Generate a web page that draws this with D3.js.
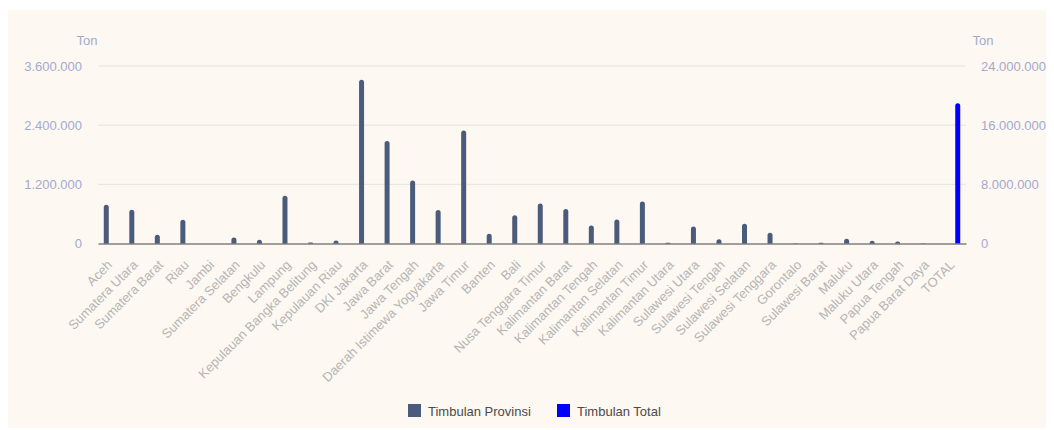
<!DOCTYPE html>
<html>
<head>
<meta charset="utf-8">
<script src="https://cdn.jsdelivr.net/npm/d3@7"></script>
<style>
  body { margin: 0; background: #fff; font-family: "Liberation Sans", Arial, sans-serif; }
</style>
</head>
<body>
<svg id="chart" width="1054" height="430"></svg>
<script>
const provinces = ["Aceh", "Sumatera Utara", "Sumatera Barat", "Riau", "Jambi", "Sumatera Selatan",
  "Bengkulu", "Lampung", "Kepulauan Bangka Belitung", "Kepulauan Riau", "DKI Jakarta", "Jawa Barat",
  "Jawa Tengah", "Daerah Istimewa Yogyakarta", "Jawa Timur", "Banten", "Bali", "Nusa Tenggara Timur",
  "Kalimantan Barat", "Kalimantan Tengah", "Kalimantan Selatan", "Kalimantan Timur", "Kalimantan Utara",
  "Sulawesi Utara", "Sulawesi Tengah", "Sulawesi Selatan", "Sulawesi Tenggara", "Gorontalo",
  "Sulawesi Barat", "Maluku", "Maluku Utara", "Papua Tengah", "Papua Barat Daya"];
const totalLabel = "TOTAL";

// tonnes per province
const provinsiValues = [785000, 683000, 176000, 480000, 0, 120000,
  75000, 970000, 20000, 60000, 3320000, 2080000,
  1280000, 680000, 2290000, 197000, 575000, 810000,
  700000, 365000, 487000, 850000, 15000,
  345000, 88000, 400000, 217000, 5000,
  15000, 95000, 55000, 40000, 5000];
const totalValue = 18980000;

const leftTicks = [0, 1200000, 2400000, 3600000];
const rightTicks = [0, 8000000, 16000000, 24000000];
const seriesNames = ["Timbulan Provinsi", "Timbulan Total"];
const seriesColors = ["#4b5b7b", "#0000ff"];

const categories = provinces.concat([totalLabel]);
const svg = d3.select("#chart");
const margin = { top: 66, left: 98, right: 88, bottom: 186 };
const width = 1054, height = 430;
const font = "Liberation Sans, Arial, sans-serif";

svg.append("rect").attr("x", 8).attr("y", 10).attr("width", 1038).attr("height", 418)
  .attr("fill", "#fdf8f1");

const x = d3.scaleBand().domain(categories).range([margin.left, width - margin.right]);
const x1 = d3.scaleBand().domain(seriesNames)
  .range([x.bandwidth() / 2 - 9, x.bandwidth() / 2 + 9]);
const yL = d3.scaleLinear().domain([0, 3600000]).range([243.5, margin.top]);
const yR = d3.scaleLinear().domain([0, 24000000]).range([243.5, margin.top]);
const fmt = v => d3.format(",")(v).replace(/,/g, ".");

// grid
svg.append("g").selectAll("line").data(leftTicks.slice(1)).join("line")
  .attr("x1", margin.left).attr("x2", width - margin.right)
  .attr("y1", d => yL(d)).attr("y2", d => yL(d))
  .attr("stroke", "#e6e2dc").attr("stroke-width", 1);

// left axis
svg.append("g").attr("transform", `translate(${margin.left},0)`)
  .call(d3.axisLeft(yL).tickValues(leftTicks).tickFormat(fmt).tickSize(0).tickPadding(16))
  .call(g => g.select(".domain").remove())
  .call(g => g.selectAll("text").attr("fill", "#a3aacf").attr("font-size", 13).attr("font-family", font));

// right axis
svg.append("g").attr("transform", `translate(${width - margin.right},0)`)
  .call(d3.axisRight(yR).tickValues(rightTicks).tickFormat(fmt).tickSize(0).tickPadding(15))
  .call(g => g.select(".domain").remove())
  .call(g => g.selectAll("text").attr("fill", "#a3aacf").attr("font-size", 13).attr("font-family", font));

svg.append("text").attr("x", 87).attr("y", 45).attr("text-anchor", "middle")
  .attr("fill", "#a3aacf").attr("font-size", 13).text("Ton");
svg.append("text").attr("x", 983).attr("y", 45).attr("text-anchor", "middle")
  .attr("fill", "#a3aacf").attr("font-size", 13).text("Ton");

// rounded-top bar path
function barPath(cx, w, y0, y1) {
  const h = y0 - y1;
  if (h <= 0) return "";
  const r = Math.min(w / 2, h);
  const l = cx - w / 2, rr = cx + w / 2;
  return `M${l},${y0}V${y1 + r}A${r},${r} 0 0 1 ${l + r},${y1}H${rr - r}A${r},${r} 0 0 1 ${rr},${y1 + r}V${y0}Z`;
}
const barW = 5;

svg.append("g").selectAll("path").data(provinces.map((p, i) => ({ p, v: provinsiValues[i] }))).join("path")
  .attr("fill", seriesColors[0])
  .attr("d", d => barPath(x(d.p) + x1(seriesNames[0]) + x1.bandwidth() / 2, barW, yL(0), yL(d.v)));

svg.append("g").selectAll("path").data([{ p: totalLabel, v: totalValue }]).join("path")
  .attr("fill", seriesColors[1])
  .attr("d", d => barPath(x(d.p) + x1(seriesNames[1]) + x1.bandwidth() / 2, barW, yR(0), yR(d.v)));

// x axis
svg.append("g").attr("transform", `translate(0,${yL(0)})`)
  .call(d3.axisBottom(x).tickSize(0).tickPadding(0))
  .call(g => g.select(".domain").attr("stroke", "#444").attr("stroke-width", 1))
  .call(g => g.selectAll("text")
    .attr("fill", "#b5b5b5").attr("font-size", 13).attr("font-family", font)
    .attr("text-anchor", "end").attr("dy", "0.35em")
    .attr("transform", "translate(-1,19) rotate(-45)"));

// legend
const legend = svg.append("g");
const legendX = [408, 557];
seriesNames.forEach((s, i) => {
  legend.append("rect").attr("x", legendX[i]).attr("y", 404).attr("width", 13).attr("height", 13)
    .attr("fill", seriesColors[i]);
  legend.append("text").attr("x", legendX[i] + 20).attr("y", 415.5).attr("font-size", 13)
    .attr("fill", "#4a4a4a").text(s);
});
</script>
</body>
</html>
